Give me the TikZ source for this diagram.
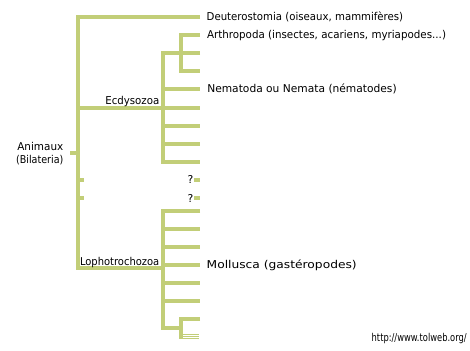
\documentclass[tikz,border=0pt]{standalone}
\usepackage{graphicx}
\usepackage{fontspec}
\setmainfont{DejaVu Sans}
\definecolor{lineg}{RGB}{194,206,120}
\newcommand{\wtxt}[2]{\resizebox{#1pt}{\height}{#2}}
\begin{document}
\begin{tikzpicture}[x=1pt,y=-1pt,
  br/.style={draw=lineg,line width=4pt,line join=miter,line cap=butt},
  thin/.style={draw=lineg,line width=1pt,line cap=butt},
  lbl/.style={inner sep=0pt,outer sep=0pt,font=\fontsize{10.8}{12}\selectfont,text=black}]
\useasboundingbox[fill=white] (0,0) rectangle (470,350);
% main axis
\coordinate (tDeut) at (200,17.5);
\coordinate (Atop) at (78,17.5);
\coordinate (Abot) at (78,268);
\coordinate (Aroot) at (78,152.7);
\coordinate (Sroot) at (70,152.7);
\coordinate (Aecd) at (78,107.5);
\coordinate (Aq1) at (78,179.7);
\coordinate (Sq1) at (84,179.7);
\coordinate (Aq2) at (78,197.7);
\coordinate (Sq2) at (84,197.7);
% Ecdysozoa
\coordinate (Enode) at (163,107.5);
\coordinate (Etop) at (163,53.5);
\coordinate (Ebot) at (163,161.5);
\coordinate (tE1) at (200,53.5);
\coordinate (tE2) at (200,89.5);
\coordinate (tE3) at (200,107.5);
\coordinate (tE4) at (200,125.5);
\coordinate (tE5) at (200,143.5);
\coordinate (tE6) at (200,161.5);
\coordinate (Ex2) at (163,89.5);
\coordinate (Ex4) at (163,125.5);
\coordinate (Ex5) at (163,143.5);
% Arthropoda
\coordinate (Rtop) at (181,35.5);
\coordinate (Rbot) at (181,71.5);
\coordinate (tR1) at (200,35.5);
\coordinate (tR3) at (200,71.5);
% question tips
\coordinate (q1a) at (194,179.5);
\coordinate (q1b) at (200,179.5);
\coordinate (q2a) at (194,197.5);
\coordinate (q2b) at (200,197.5);
% Lophotrochozoa
\coordinate (Lnode) at (163,268);
\coordinate (Ltop) at (163,211);
\coordinate (Lbot) at (163,328);
\coordinate (Msub) at (181,328);
\coordinate (tL1) at (200,211);
\foreach \i/\y in {2/229,3/247,4/265,5/283,6/301}{
  \coordinate (Lx\i) at (163,\y);
  \coordinate (tL\i) at (200,\y);
}
\coordinate (Mtop) at (181,319);
\coordinate (Mbot) at (181,339);
\coordinate (tM1) at (200,319);
\foreach \j/\y in {1/334.3,2/336.3,3/338.3}{
  \coordinate (ta\j) at (183,\y);
  \coordinate (tb\j) at (199,\y);
}
% drawing
\draw[br] (tDeut) -- (Atop) -- (Abot) -- (Lnode);
\draw[br] (Sroot) -- (Aroot);
\draw[br] (Aq1) -- (Sq1);
\draw[br] (Aq2) -- (Sq2);
\draw[br] (Aecd) -- (Enode);
\draw[br] (tE1) -- (Etop) -- (Ebot) -- (tE6);
\draw[br] (Enode) -- (tE3);
\draw[br] (Ex2) -- (tE2);
\draw[br] (Ex4) -- (tE4);
\draw[br] (Ex5) -- (tE5);
\draw[br] (tR1) -- (Rtop) -- (Rbot) -- (tR3);
\draw[br] (q1a) -- (q1b);
\draw[br] (q2a) -- (q2b);
\draw[br] (tL1) -- (Ltop) -- (Lbot) -- (Msub);
\foreach \i in {2,...,6}{ \draw[br] (Lx\i) -- (tL\i); }
\draw[br] (tM1) -- (Mtop) -- (Mbot);
\foreach \j in {1,2,3}{ \draw[thin] (ta\j) -- (tb\j); }
% labels
\node[lbl,anchor=base west] (nDeut) at (206.7,20.8) {\wtxt{196.5}{Deuterostomia (oiseaux, mammifères)}};
\node[lbl,anchor=base west] (nArth) at (207,39) {\wtxt{239}{Arthropoda (insectes, acariens, myriapodes...)}};
\node[lbl,anchor=base west] (nNema) at (207.3,93) {\wtxt{189.4}{Nematoda ou Nemata (nématodes)}};
\node[lbl,anchor=base west] (nMoll) at (206.7,268.5) {\wtxt{150}{Mollusca (gastéropodes)}};
\node[lbl,anchor=base west] (nUrl) at (371.7,341.7) {\wtxt{95}{http://www.tolweb.org/}};
\node[lbl,anchor=base east] (nEcd) at (159.3,104) {\wtxt{54}{Ecdysozoa}};
\node[lbl,anchor=base west] (nLop) at (80,265) {\wtxt{79.3}{Lophotrochozoa}};
\node[lbl,anchor=base] (nAni) at (40.3,150.7) {\wtxt{46}{Animaux}};
\node[lbl,anchor=base] (nBil) at (39.7,163.5) {\wtxt{47.3}{(Bilateria)}};
\node[lbl,anchor=east] (nQ1) at (193.3,179.5) {?};
\node[lbl,anchor=east] (nQ2) at (193.3,198) {?};
\end{tikzpicture}
\end{document}
